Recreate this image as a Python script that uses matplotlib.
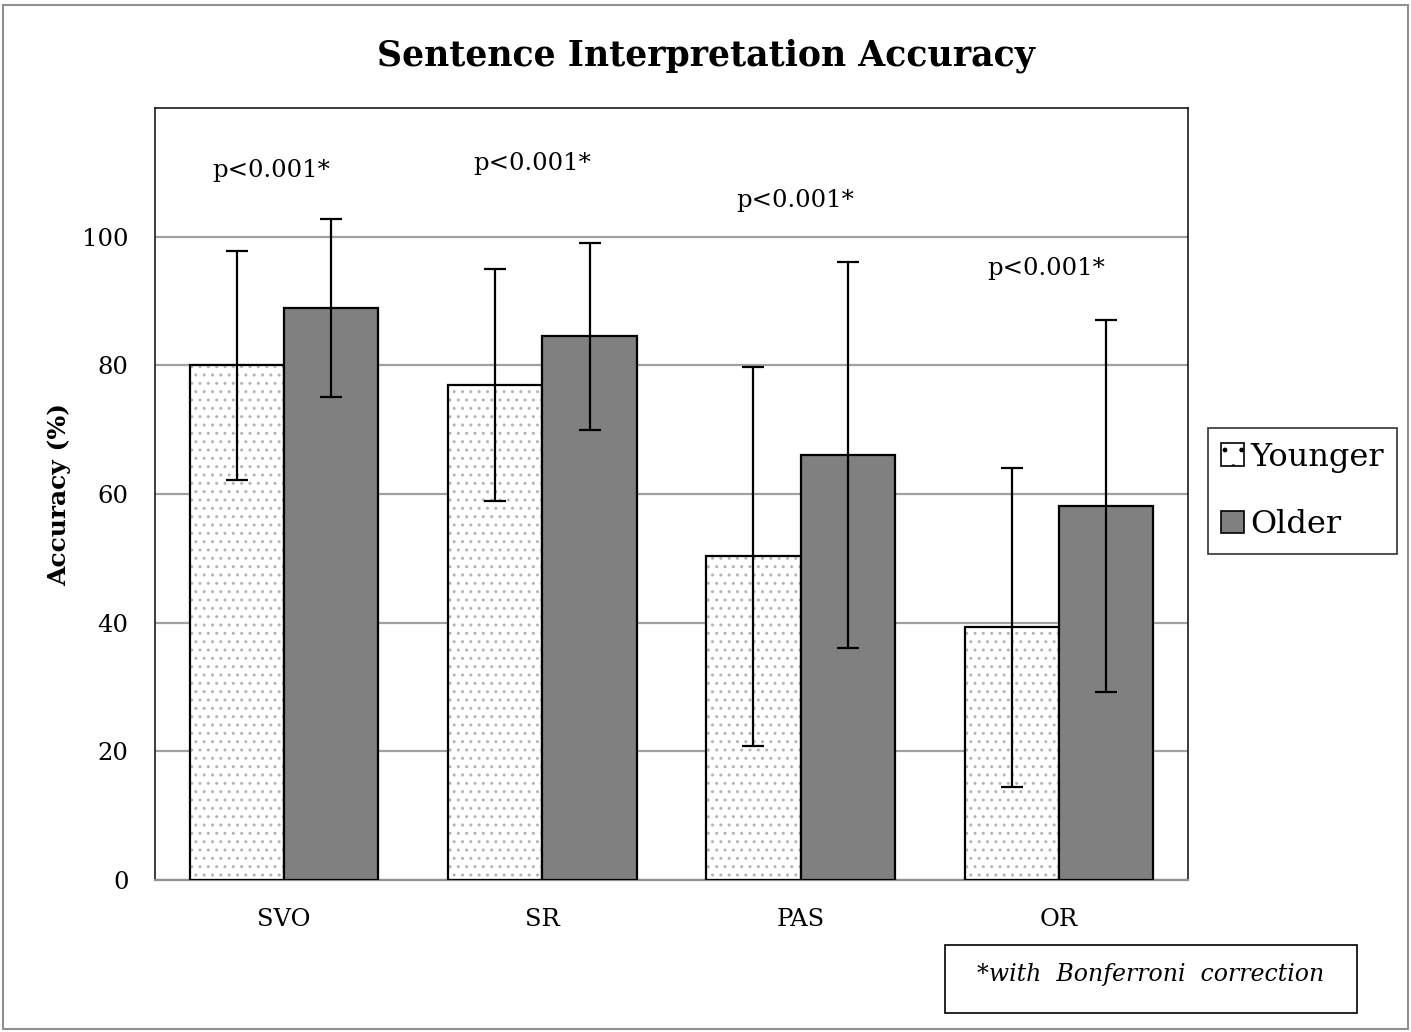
import matplotlib
matplotlib.use("Agg")
import matplotlib.pyplot as plt
import numpy as np
from matplotlib.patches import Rectangle, Patch

categories = ["SVO", "SR", "PAS", "OR"]
younger = [80.0, 76.9, 50.3, 39.3]
younger_err = [17.8, 18.0, 29.5, 24.8]
older = [88.9, 84.5, 66.1, 58.1]
older_err = [13.8, 14.5, 30.0, 28.9]
p_labels = ["p<0.001*", "p<0.001*", "p<0.001*", "p<0.001*"]
p_label_y = [110.3, 111.4, 105.6, 95.0]
p_label_dx = [-0.05, -0.04, -0.02, -0.05]
series_names = ["Younger", "Older"]
footnote = "*with  Bonferroni  correction"

plt.rcParams['font.family'] = ['DejaVu Serif']
plt.rcParams['hatch.linewidth'] = 1.0

fig = plt.figure(figsize=(14.11, 10.32), dpi=100)
ax = fig.add_axes([155/1411, 1-880/1032, (1188-155)/1411, (880-108)/1032])

x = np.arange(len(categories))
w = 0.365

ax.bar(x - w/2, younger, w, facecolor='white', edgecolor='#b4b4b4', hatch='..', linewidth=0, zorder=2)
ax.bar(x - w/2, younger, w, facecolor='none', edgecolor='black', linewidth=1.6, zorder=3)
ax.bar(x + w/2, older, w, facecolor='#808080', edgecolor='black', linewidth=1.6, zorder=3)

ax.errorbar(x - w/2, younger, yerr=younger_err, fmt='none', ecolor='black', elinewidth=1.6, capsize=8, capthick=1.6, zorder=4)
ax.errorbar(x + w/2, older, yerr=older_err, fmt='none', ecolor='black', elinewidth=1.6, capsize=8, capthick=1.6, zorder=4)

for i, (lab, yy, dx) in enumerate(zip(p_labels, p_label_y, p_label_dx)):
    ax.text(i + dx, yy, lab, ha='center', va='center', fontsize=17.5)

ax.set_xlim(-0.5, len(categories) - 0.5)
ax.set_ylim(0, 120)
ax.set_yticks([0, 20, 40, 60, 80, 100])
ax.set_xticks(x)
ax.set_xticklabels(categories)
ax.yaxis.grid(True, color='#a0a0a0', linewidth=1.6, zorder=0)
ax.set_axisbelow(True)
ax.tick_params(axis='both', length=0, labelsize=17.5)
ax.tick_params(axis='x', pad=20)
ax.tick_params(axis='y', pad=19)
for s in ['top', 'right', 'left']:
    ax.spines[s].set_color('#1a1a1a')
    ax.spines[s].set_linewidth(1.2)
ax.spines['bottom'].set_color('#909090')
ax.spines['bottom'].set_linewidth(1.6)

ax.set_ylabel("Accuracy (%)", fontsize=18, fontweight='bold', labelpad=8)

fig.text(0.5, 1-56/1032, "Sentence Interpretation Accuracy", ha='center', va='center',
         fontsize=25, fontweight='bold')

handles = [Patch(facecolor='white', edgecolor='black', hatch='.', linewidth=1.2),
           Patch(facecolor='#808080', edgecolor='black', linewidth=1.2)]
leg = fig.legend(handles, series_names, loc='center left',
                 bbox_to_anchor=(1208/1411, 1-491/1032), fontsize=23,
                 frameon=True, fancybox=False, edgecolor='black',
                 handlelength=0.7, handleheight=0.7, handletextpad=0.2,
                 labelspacing=1.15, borderpad=0.42, borderaxespad=0)
leg.get_frame().set_linewidth(1.2)

fig.patches.append(Rectangle((945/1411, 1-1013/1032), (1357-945)/1411, (1013-945)/1032,
                             transform=fig.transFigure, facecolor='white', edgecolor='black',
                             linewidth=1.2))
fig.text((945+1357)/2/1411, 1-974/1032, footnote, ha='center', va='center',
         fontsize=17, fontstyle='italic')

fig.patches.append(Rectangle((3/1411, 3/1032), 1-6/1411, 1-8/1032, transform=fig.transFigure,
                             facecolor='none', edgecolor='#909090', linewidth=1.5))

fig.savefig("out.png", dpi=100)
